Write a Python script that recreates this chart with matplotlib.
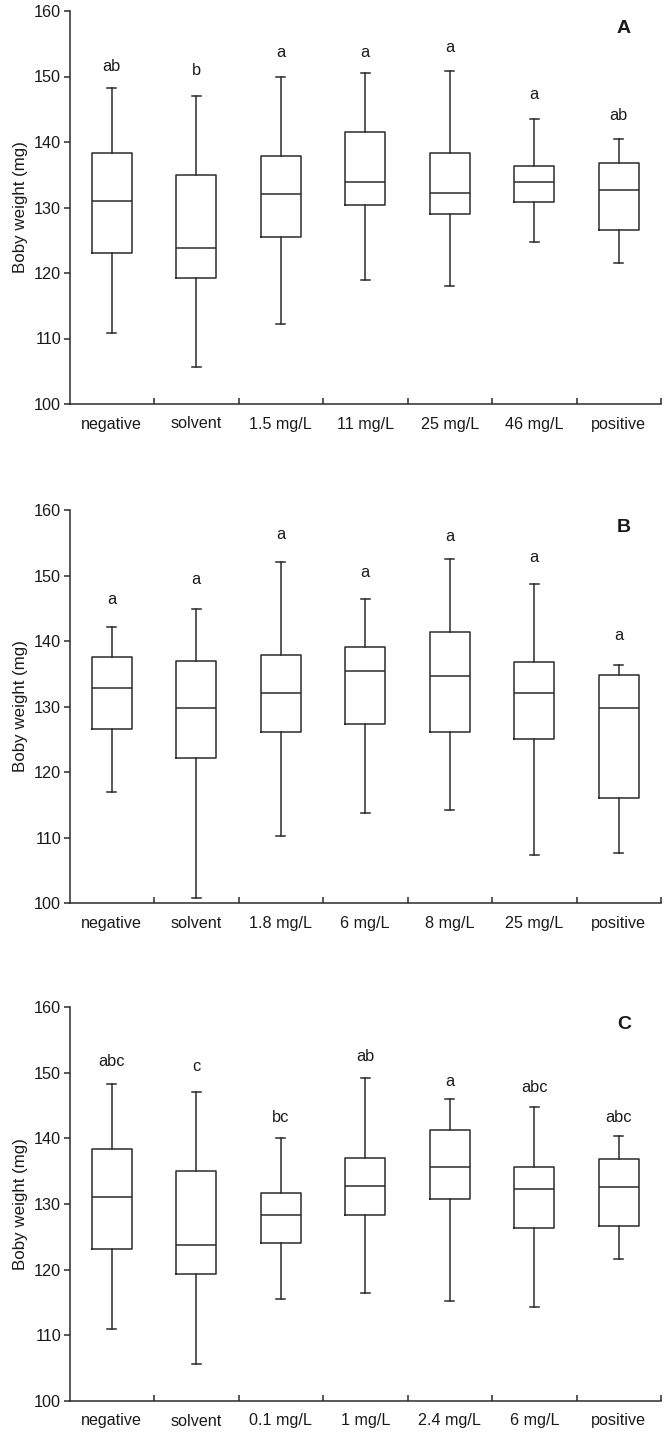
import matplotlib
matplotlib.use("Agg")
import matplotlib.pyplot as plt
from matplotlib.ticker import FixedLocator

plt.rcParams['font.family'] = ['Liberation Sans', 'DejaVu Sans']

# ---------------- data ----------------
cats_A = ["negative", "solvent", "1.5 mg/L", "11 mg/L", "25 mg/L", "46 mg/L", "positive"]
lo_A  = [110.9, 105.6, 112.2, 118.9, 118.0, 124.8, 121.6]
q1_A  = [123.1, 119.3, 125.5, 130.4, 129.0, 130.9, 126.6]
med_A = [131.0, 123.8, 132.1, 133.9, 132.2, 133.9, 132.6]
q3_A  = [138.3, 135.0, 137.8, 141.5, 138.3, 136.3, 136.8]
hi_A  = [148.2, 147.0, 150.0, 150.6, 150.9, 143.5, 140.5]
let_A = ["ab", "b", "a", "a", "a", "a", "ab"]
lety_A = [151.6, 150.9, 153.6, 153.6, 154.4, 147.2, 144.0]

cats_B = ["negative", "solvent", "1.8 mg/L", "6 mg/L", "8 mg/L", "25 mg/L", "positive"]
lo_B  = [117.0, 100.8, 110.2, 113.7, 114.2, 107.3, 107.7]
q1_B  = [126.6, 122.1, 126.1, 127.4, 126.1, 125.0, 116.1]
med_B = [132.9, 129.7, 132.1, 135.4, 134.7, 132.1, 129.8]
q3_B  = [137.6, 137.0, 137.9, 139.1, 141.4, 136.8, 134.8]
hi_B  = [142.2, 144.9, 152.1, 146.4, 152.5, 148.7, 136.4]
let_B = ["a", "a", "a", "a", "a", "a", "a"]
lety_B = [146.4, 149.4, 156.3, 150.5, 156.0, 152.8, 140.9]

cats_C = ["negative", "solvent", "0.1 mg/L", "1 mg/L", "2.4 mg/L", "6 mg/L", "positive"]
lo_C  = [110.9, 105.6, 115.6, 116.5, 115.3, 114.3, 121.6]
q1_C  = [123.1, 119.3, 124.0, 128.3, 130.7, 126.3, 126.6]
med_C = [131.0, 123.8, 128.4, 132.8, 135.6, 132.3, 132.6]
q3_C  = [138.3, 135.0, 131.6, 137.0, 141.3, 135.7, 136.8]
hi_C  = [148.3, 147.0, 140.1, 149.2, 146.0, 144.7, 140.4]
let_C = ["abc", "c", "bc", "ab", "a", "abc", "abc"]
lety_C = [151.7, 150.9, 143.2, 152.4, 148.7, 147.7, 143.2]

panels = [
    ("A", cats_A, lo_A, q1_A, med_A, q3_A, hi_A, let_A, lety_A),
    ("B", cats_B, lo_B, q1_B, med_B, q3_B, hi_B, let_B, lety_B),
    ("C", cats_C, lo_C, q1_C, med_C, q3_C, hi_C, let_C, lety_C),
]

# ---------------- figure ----------------
fig = plt.figure(figsize=(6.66, 14.36), dpi=100)
left = 69.5 / 666
width = (661 - 69.5) / 666
tops = [11, 510, 1007]
bottoms = [404, 903, 1401]

col = "#2b2b2b"
tcol = "#1a1a1a"
lw = 1.1

for (name, cats, lo, q1, med, q3, hi, lets, lety), t, b in zip(panels, tops, bottoms):
    ax = fig.add_axes([left, 1 - b / 1436, width, (b - t) / 1436])
    stats = []
    for i in range(len(cats)):
        stats.append(dict(med=med[i], q1=q1[i], q3=q3[i], whislo=lo[i], whishi=hi[i], fliers=[]))
    pos = list(range(len(cats)))
    ax.bxp(stats, positions=pos, widths=0.47, capwidths=0.11, showfliers=False,
           boxprops=dict(color=col, linewidth=lw),
           medianprops=dict(color=col, linewidth=lw),
           whiskerprops=dict(color=col, linewidth=lw),
           capprops=dict(color=col, linewidth=lw))
    for i, (s, y) in enumerate(zip(lets, lety)):
        ax.text(pos[i], y, s, ha="center", va="center", fontsize=11.8, color=tcol)
    ax.text(6.06, 157.4, name, ha="center", va="center", fontsize=14, fontweight="bold", color=tcol)

    ax.set_xlim(-0.5, len(cats) - 0.5)
    ax.set_ylim(100, 160)
    ax.set_yticks(range(100, 161, 10))
    ax.set_xticks(pos)
    ax.set_xticklabels(cats)
    ax.xaxis.set_minor_locator(FixedLocator([p + 0.5 for p in pos[:-1]] + [len(cats) - 0.5]))
    ax.tick_params(axis="x", which="major", length=0, pad=9, labelsize=11.6, labelcolor=tcol)
    ax.tick_params(axis="x", which="minor", direction="in", length=4, width=lw, color=col)
    ax.tick_params(axis="y", which="major", direction="out", length=4, width=lw, color=col,
                   pad=2, labelsize=11.7, labelcolor=tcol)
    for sp in ["top", "right"]:
        ax.spines[sp].set_visible(False)
    for sp in ["left", "bottom"]:
        ax.spines[sp].set_color(col)
        ax.spines[sp].set_linewidth(lw)
    ax.set_ylabel("Boby weight (mg)", fontsize=12.2, color=tcol, labelpad=4)

fig.savefig("out.png", dpi=100)
